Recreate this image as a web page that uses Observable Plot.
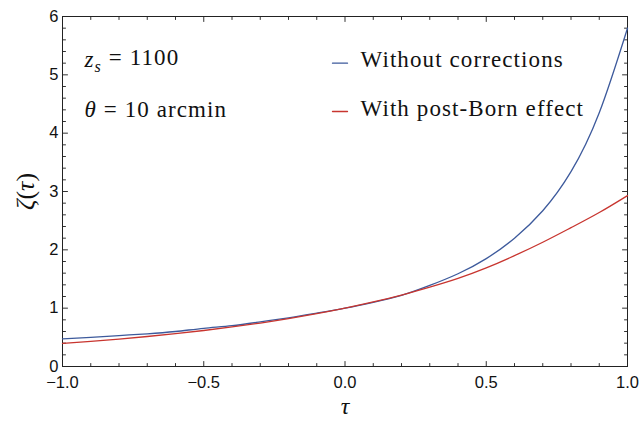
<!DOCTYPE html>
<html><head><meta charset="utf-8">
<script src="https://cdn.jsdelivr.net/npm/d3@7"></script>
<script src="https://cdn.jsdelivr.net/npm/@observablehq/plot@0.6"></script>
<style>body{margin:0;background:#fff}</style>
</head><body><div id="chart"></div>
<script>
const tau = [-1,-0.9,-0.8,-0.7,-0.6,-0.5,-0.4,-0.3,-0.2,-0.1,0,0.1,0.2,0.3,0.4,0.5,0.6,0.7,0.8,0.9,1];
const withoutCorrections = [0.475,0.50,0.53,0.56,0.60,0.655,0.70,0.765,0.835,0.915,1.0,1.10,1.22,1.39,1.59,1.85,2.20,2.67,3.34,4.35,5.80];
const withPostBorn = [0.395,0.430,0.470,0.514,0.563,0.617,0.678,0.745,0.821,0.905,1.0,1.106,1.225,1.36,1.51,1.69,1.90,2.13,2.38,2.64,2.93];
const seriesNames = ["Without corrections","With post-Born effect"];
const seriesColors = ["#3d5a9c","#c8352f"];
const xMajorTicks = [-1,-0.5,0,0.5,1];
const xTickLabels = ["−1.0","−0.5","0.0","0.5","1.0"];
const xMinorTicks = [-0.9,-0.8,-0.7,-0.6,-0.4,-0.3,-0.2,-0.1,0.1,0.2,0.3,0.4,0.6,0.7,0.8,0.9];
const yMajorTicks = [0,1,2,3,4,5,6];
const yTickLabels = ["0","1","2","3","4","5","6"];
const yMinorTicks = [0.2,0.4,0.6,0.8,1.2,1.4,1.6,1.8,2.2,2.4,2.6,2.8,3.2,3.4,3.6,3.8,4.2,4.4,4.6,4.8,5.2,5.4,5.6,5.8];
const annotationLines = ["z_s = 1100","θ = 10 arcmin"];
const xLabel = "τ";
const yLabel = "ζ(τ)";

const rows = [];
tau.forEach((t,i)=>{
  rows.push({tau:t, value:withoutCorrections[i], series:seriesNames[0]});
});
tau.forEach((t,i)=>{
  rows.push({tau:t, value:withPostBorn[i], series:seriesNames[1]});
});

const serif = "Liberation Serif, DejaVu Serif, serif";
const sans = "Liberation Sans, Arial, sans-serif";
const tickColor = "#333";

const seg = {draw(ctx, l){ ctx.moveTo(0,0); ctx.lineTo(0,-l); }};
const xTicks = (ticks, len, anchor, rot) => Plot.vector(ticks, {x: d => d, frameAnchor: anchor, length: len, rotate: rot, anchor: "start", shape: seg, stroke: tickColor, strokeWidth: 1});
const yTicks = (ticks, len, anchor, rot) => Plot.vector(ticks, {y: d => d, frameAnchor: anchor, length: len, rotate: rot, anchor: "start", shape: seg, stroke: tickColor, strokeWidth: 1});
const label = (txt, opts) => Plot.text([txt], {text: d => d, textAnchor: "start", lineAnchor: "middle", fontFamily: serif, fontSize: 23, fill: "#111", ...opts});

const chart = Plot.plot({
  width: 644, height: 423,
  marginLeft: 62, marginRight: 17, marginTop: 16, marginBottom: 57,
  style: {fontFamily: sans, fontSize: "16.5px", color: "#111", background: "#fff"},
  x: {domain: [-1, 1], axis: null},
  y: {domain: [0, 6], axis: null},
  color: {domain: seriesNames, range: seriesColors},
  marks: [
    // tick labels
    Plot.axisX({ticks: xMajorTicks, tickSize: 0, tickPadding: 10, tickFormat: d => xTickLabels[xMajorTicks.indexOf(d)], label: null, fontSize: 16.5, fill: "#111"}),
    Plot.axisY({ticks: yMajorTicks, tickSize: 0, tickPadding: 4, tickFormat: d => yTickLabels[yMajorTicks.indexOf(d)], label: null, fontSize: 16.5, fill: "#111"}),
    // inward ticks on all four sides
    xTicks(xMajorTicks, 5, "bottom", 0),
    xTicks(xMinorTicks, 3, "bottom", 0),
    xTicks(xMajorTicks, 5, "top", 180),
    xTicks(xMinorTicks, 3, "top", 180),
    yTicks(yMajorTicks, 5, "left", 90),
    yTicks(yMinorTicks, 3, "left", 90),
    yTicks(yMajorTicks, 5, "right", -90),
    yTicks(yMinorTicks, 3, "right", -90),
    Plot.frame({stroke: "#222", strokeWidth: 1}),
    // curves
    Plot.line(rows, {x: "tau", y: "value", z: "series", stroke: "series", strokeWidth: 1.3, curve: "natural"}),
    // axis labels
    label(xLabel, {frameAnchor: "bottom", dy: 40, textAnchor: "middle", fontSize: 24, fontStyle: "italic"}),
    label(yLabel, {frameAnchor: "left", dx: -37, rotate: -90, textAnchor: "middle", fontSize: 26}),
    // annotations
    label(annotationLines[0], {frameAnchor: "top-left", dx: 22, dy: 43.6}),
    label(annotationLines[1], {frameAnchor: "top-left", dx: 22, dy: 93.6}),
    // legend
    Plot.vector([seriesNames[0]], {frameAnchor: "top-left", dx: 270, dy: 46.7, length: 15, rotate: 90, anchor: "start", shape: seg, stroke: d => d, strokeWidth: 1.3}),
    Plot.vector([seriesNames[1]], {frameAnchor: "top-left", dx: 270, dy: 95, length: 15, rotate: 90, anchor: "start", shape: seg, stroke: d => d, strokeWidth: 1.3}),
    label(seriesNames[0], {frameAnchor: "top-left", dx: 298, dy: 43.3}),
    label(seriesNames[1], {frameAnchor: "top-left", dx: 298, dy: 92.6})
  ]
});

// rich formatting for math text, and wider tracking to mimic Computer Modern
const wide = new Set([...annotationLines, ...seriesNames]);
d3.select(chart).selectAll("text").each(function(){
  const el = d3.select(this);
  const t = this.textContent;
  if (wide.has(t)) el.attr("letter-spacing", "1.1px");
  if (t === annotationLines[0]) {
    el.text(null);
    el.append("tspan").attr("font-style","italic").text("z");
    el.append("tspan").attr("font-style","italic").attr("font-size","70%").attr("dy","0.3em").text("s");
    el.append("tspan").attr("dy","-0.3em").text(" = 1100");
  } else if (t === annotationLines[1]) {
    el.text(null);
    el.append("tspan").attr("font-style","italic").text("θ");
    el.append("tspan").text(" = 10 arcmin");
  } else if (t === yLabel) {
    el.text(null);
    el.append("tspan").attr("font-style","italic").text("ζ");
    el.append("tspan").text("(");
    el.append("tspan").attr("font-style","italic").text("τ");
    el.append("tspan").text(")");
  }
});

document.getElementById("chart").appendChild(chart);
</script>
</body></html>
